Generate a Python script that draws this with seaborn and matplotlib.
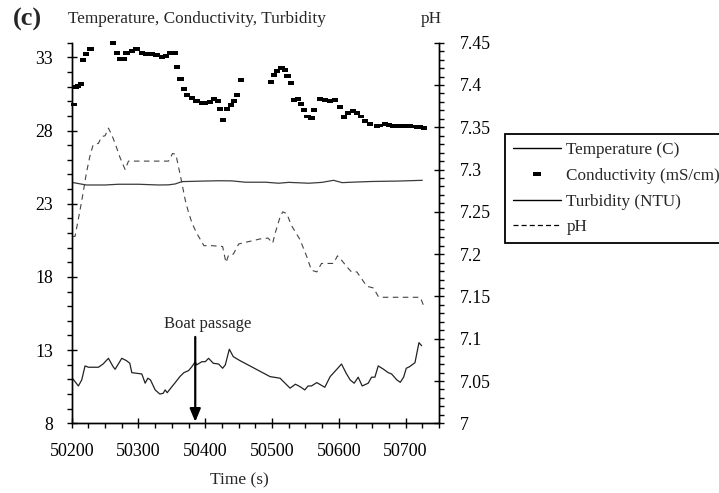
import matplotlib
matplotlib.use("Agg")
import matplotlib.pyplot as plt
import seaborn as sns
from matplotlib.lines import Line2D
from matplotlib.ticker import MultipleLocator, FuncFormatter

# ---------------- data ----------------
temp_time = [50200, 50222, 50250, 50270, 50300, 50330, 50345, 50355, 50365, 50390,
             50420, 50440, 50460, 50490, 50510, 50525, 50555, 50575, 50592, 50605,
             50625, 50650, 50690, 50725]
temp_value = [24.46, 24.28, 24.28, 24.33, 24.33, 24.28, 24.29, 24.35, 24.51, 24.54,
              24.57, 24.56, 24.47, 24.47, 24.40, 24.46, 24.40, 24.46, 24.60, 24.44,
              24.48, 24.52, 24.55, 24.60]

cond_time = [50203, 50206, 50210, 50214, 50217, 50222, 50228, 50262, 50268, 50272,
             50278, 50282, 50290, 50297, 50305, 50312, 50320, 50327, 50335, 50341,
             50347, 50355, 50358, 50363, 50368, 50373, 50380, 50387, 50395, 50400,
             50407, 50413, 50419, 50422, 50426, 50432, 50438, 50443, 50448, 50453,
             50499, 50503, 50508, 50514, 50519, 50523, 50528, 50533, 50539, 50543,
             50548, 50553, 50559, 50563, 50572, 50579, 50584, 50587, 50594, 50602,
             50608, 50614, 50621, 50627, 50633, 50639, 50647, 50657, 50662, 50669,
             50675, 50682, 50687, 50692, 50696, 50702, 50707, 50711, 50717, 50722,
             50727]
cond_value = [29.77, 30.95, 31.04, 31.18, 32.82, 33.23, 33.59, 34.00, 33.32, 32.91,
              32.91, 33.32, 33.45, 33.55, 33.28, 33.23, 33.23, 33.18, 33.04, 33.09,
              33.30, 33.32, 32.36, 31.50, 30.82, 30.43, 30.20, 30.04, 29.90, 29.86,
              29.97, 30.13, 30.00, 29.49, 28.72, 29.49, 29.72, 30.04, 30.45, 31.45,
              31.34, 31.79, 32.09, 32.25, 32.14, 31.73, 31.27, 30.09, 30.13, 29.81,
              29.40, 28.95, 28.84, 29.40, 30.17, 30.09, 30.05, 30.00, 30.09, 29.59,
              28.92, 29.18, 29.33, 29.18, 28.95, 28.67, 28.43, 28.31, 28.35, 28.43,
              28.38, 28.33, 28.31, 28.31, 28.30, 28.31, 28.29, 28.27, 28.26, 28.24,
              28.15]

turb_time = [50201, 50210, 50215, 50220, 50225, 50240, 50247, 50255, 50262, 50265,
             50275, 50282, 50287, 50290, 50305, 50310, 50314, 50318, 50325, 50332,
             50337, 50340, 50343, 50350, 50355, 50362, 50368, 50375, 50380, 50385,
             50387, 50395, 50400, 50405, 50412, 50420, 50426, 50430, 50436, 50442,
             50452, 50497, 50512, 50527, 50535, 50542, 50549, 50554, 50559, 50567,
             50579, 50587, 50597, 50604, 50611, 50617, 50623, 50629, 50635, 50644,
             50649, 50654, 50659, 50667, 50674, 50679, 50687, 50692, 50697, 50701,
             50706, 50714, 50720, 50724]
turb_value = [11.08, 10.55, 10.96, 11.92, 11.83, 11.83, 12.05, 12.44, 11.87, 11.69,
              12.44, 12.28, 12.10, 11.46, 11.37, 10.74, 11.08, 10.96, 10.28, 10.00,
              10.05, 10.28, 10.09, 10.50, 10.78, 11.19, 11.46, 11.60, 11.87, 12.21,
              11.99, 12.21, 12.21, 12.44, 12.10, 12.05, 11.76, 11.99, 13.06, 12.55,
              12.28, 11.19, 11.08, 10.40, 10.67, 10.50, 10.28, 10.55, 10.55, 10.78,
              10.46, 11.19, 11.69, 12.05, 11.42, 10.96, 10.74, 11.15, 10.55, 10.74,
              11.15, 11.15, 11.92, 11.69, 11.46, 11.37, 10.96, 10.80, 11.15, 11.76,
              11.87, 12.14, 13.51, 13.30]

ph_time = [50201, 50205, 50212, 50217, 50222, 50227, 50232, 50240, 50245, 50250,
           50255, 50260, 50265, 50272, 50280, 50285, 50345, 50351, 50356, 50360,
           50365, 50370, 50374, 50380, 50387, 50398, 50410, 50426, 50431, 50435,
           50442, 50450, 50460, 50472, 50482, 50494, 50501, 50504, 50512, 50516,
           50522, 50529, 50542, 50552, 50559, 50567, 50574, 50592, 50598, 50604,
           50612, 50619, 50627, 50634, 50642, 50652, 50659, 50662, 50722, 50727]
ph_value = [7.221, 7.221, 7.250, 7.272, 7.296, 7.315, 7.329, 7.331, 7.339, 7.340,
            7.349, 7.341, 7.331, 7.315, 7.300, 7.310, 7.310, 7.319, 7.318, 7.303,
            7.284, 7.264, 7.252, 7.237, 7.225, 7.210, 7.210, 7.209, 7.190, 7.199,
            7.200, 7.212, 7.214, 7.216, 7.218, 7.219, 7.213, 7.223, 7.244, 7.250,
            7.248, 7.234, 7.217, 7.197, 7.181, 7.179, 7.189, 7.189, 7.198, 7.193,
            7.185, 7.179, 7.179, 7.171, 7.162, 7.160, 7.150, 7.149, 7.149, 7.139]

x_ticks = [50200, 50300, 50400, 50500, 50600, 50700]
left_ticks = [8, 13, 18, 23, 28, 33]
right_ticks = [7.0, 7.05, 7.1, 7.15, 7.2, 7.25, 7.3, 7.35, 7.4, 7.45]
series_labels = ["Temperature (C)", "Conductivity (mS/cm)", "Turbidity (NTU)", "pH"]
title_text = "Temperature, Conductivity, Turbidity"
panel_label = "(c)"
x_label = "Time (s)"
right_label = "pH"
event_time = 50385
event_label = "Boat passage"

# ---------------- style ----------------
sns.set_theme(style="ticks")
plt.rcParams["font.family"] = ["Liberation Serif", "DejaVu Serif"]
plt.rcParams["font.size"] = 12
plt.rcParams["axes.edgecolor"] = "black"
plt.rcParams["xtick.color"] = "black"
plt.rcParams["ytick.color"] = "black"

W, H = 719, 493
fig = plt.figure(figsize=(W / 100, H / 100), dpi=100)
L, R, T, B = 71.7, 439.0, 42.7, 423.3
ax = fig.add_axes([L / W, 1 - B / H, (R - L) / W, (B - T) / H])
ax2 = ax.twinx()

rect = [(-1, -0.6), (1, -0.6), (1, 0.6), (-1, 0.6), (-1, -0.6)]

sns.lineplot(x=temp_time, y=temp_value, ax=ax, color="#3a3a3a", linewidth=0.9,
             errorbar=None, sort=False)
sns.scatterplot(x=cond_time, y=cond_value, ax=ax, marker=rect, s=20,
                color="black", edgecolor="none", linewidth=0, clip_on=False)
sns.lineplot(x=turb_time, y=turb_value, ax=ax, color="#222222", linewidth=0.9,
             errorbar=None, sort=False)
sns.lineplot(x=ph_time, y=ph_value, ax=ax2, color="#444444", linewidth=0.8,
             linestyle=(0, (5, 4)), errorbar=None, sort=False)

ax.set_xlim(50200, 50750)
ax.set_ylim(8, 34)
ax2.set_ylim(7, 7.45)

ax.set_xticks(x_ticks)
ax.xaxis.set_minor_locator(MultipleLocator(25))
ax.set_yticks(left_ticks)
ax.yaxis.set_minor_locator(MultipleLocator(1))
ax2.set_yticks(right_ticks)
ax2.yaxis.set_minor_locator(MultipleLocator(0.01))
ax2.yaxis.set_major_formatter(FuncFormatter(lambda v, _: f"{round(v, 2):g}"))

for a in (ax, ax2):
    a.set_xlabel("")
    a.set_ylabel("")
    a.spines["top"].set_visible(False)
    for s in ("left", "right", "bottom"):
        a.spines[s].set_linewidth(1.0)
        a.spines[s].set_color("black")
    a.tick_params(which="major", direction="inout", length=7.2, width=1.0,
                  labelsize=12.8, labelcolor="black")
    a.tick_params(which="minor", direction="out", length=3.6, width=1.0)
ax.tick_params(axis="x", which="major", pad=10.5, labelsize=13)
ax.tick_params(axis="y", which="major", pad=10.0)
ax2.tick_params(axis="y", which="major", pad=11.5)
ax.grid(False)
ax2.grid(False)

# boat passage annotation
ax.annotate("", xy=(event_time, 8.1), xytext=(event_time, 13.9),
            arrowprops=dict(arrowstyle="-|>,head_length=0.65,head_width=0.27",
                            color="black", lw=1.6, shrinkA=0, shrinkB=0),
            fontsize=12)
ax.text(event_time + 19, 14.8, event_label, ha="center", va="center", fontsize=12)

# texts
fig.text(13 / W, 1 - 19 / H, panel_label, fontsize=19, fontweight="bold",
         ha="left", va="center")
fig.text(68 / W, 1 - 19 / H, title_text, fontsize=12.4, ha="left", va="center")
fig.text(421 / W, 1 - 19 / H, right_label, fontsize=12.4, ha="left", va="center")
fig.text(239 / W, 1 - 480 / H, x_label, fontsize=12.5, ha="center", va="center")

# legend
handles = [
    Line2D([0], [0], color="black", lw=1.0),
    Line2D([0], [0], ls="none", marker=rect, markersize=5.5, color="black",
           markeredgewidth=0),
    Line2D([0], [0], color="black", lw=1.0),
    Line2D([0], [0], color="black", lw=0.9, ls=(0, (4, 2.5))),
]
leg = fig.legend(handles, series_labels, loc="upper left",
                 bbox_to_anchor=(505 / W, 1 - 134 / H), bbox_transform=fig.transFigure,
                 frameon=True, fancybox=False, edgecolor="black", framealpha=1,
                 borderpad=0.45, handlelength=2.85, handletextpad=0.3,
                 labelspacing=0.58, borderaxespad=0, fontsize=12.3)
leg.get_frame().set_linewidth(1.3)

fig.savefig("out.png", dpi=100)
